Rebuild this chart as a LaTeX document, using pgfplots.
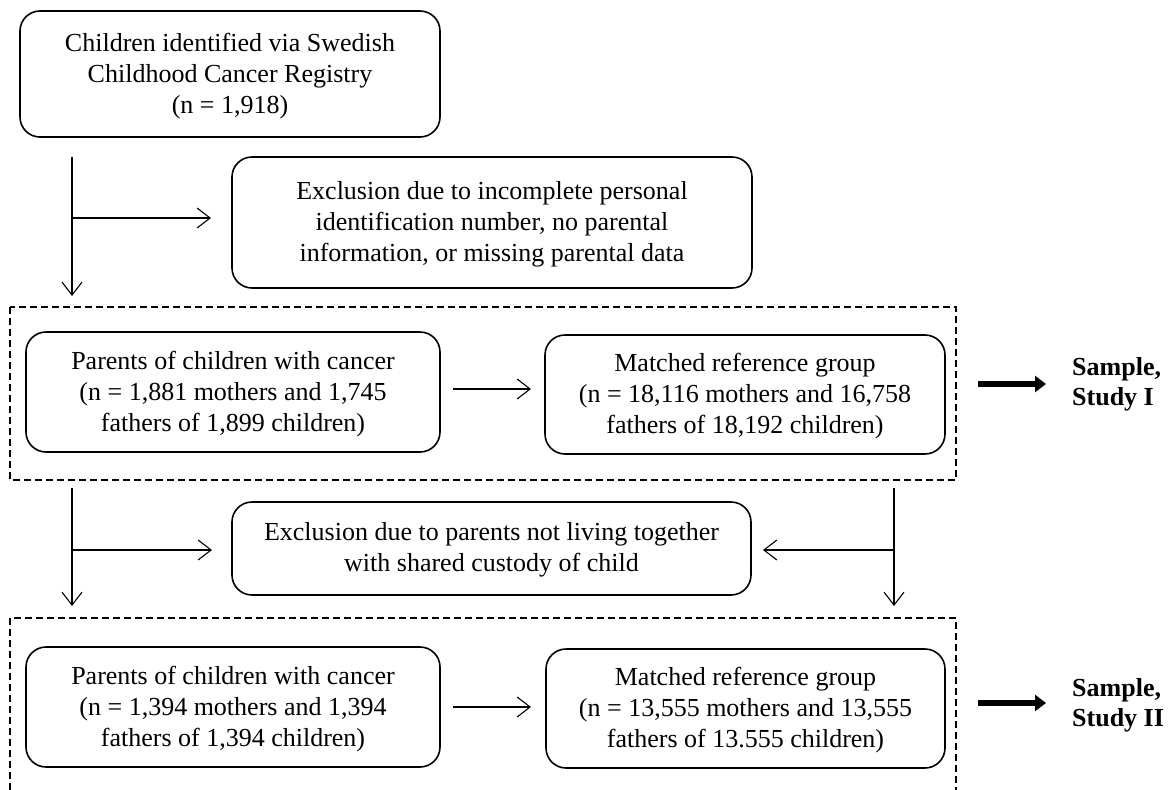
\documentclass[border=0pt]{standalone}
\usepackage{pgfplots}
\pgfplotsset{compat=1.18}
\usepackage{fontspec}
\setmainfont{Liberation Serif}
\usetikzlibrary{arrows.meta}
\begin{document}
\begin{tikzpicture}
\begin{axis}[width=1168pt,height=790pt,scale only axis,
  xmin=0,xmax=1168,ymin=0,ymax=790,y dir=reverse,
  axis lines=none,clip=false,ticks=none]
\tikzset{box/.style={draw,line width=1.6pt,rounded corners=20pt},
  txt/.style={align=center,font=\fontsize{26}{31}\selectfont,inner sep=0pt},
  arr/.style={line width=1.1pt,-{Straight Barb[length=13pt,width=20pt,line width=1.1pt]}},
  dbox/.style={line width=1.6pt,dash pattern=on 7pt off 4pt}}
% boxes
\draw[box] (axis cs:20,11) rectangle (axis cs:440,137);
\node[txt] at (axis cs:230,76) {Children identified via Swedish\\Childhood Cancer Registry\\(n = 1,918)};
\draw[box] (axis cs:232,157) rectangle (axis cs:752,288);
\node[txt] at (axis cs:492,224) {Exclusion due to incomplete personal\\identification number, no parental\\information, or missing parental data};
\draw[box] (axis cs:26,332) rectangle (axis cs:440,452);
\node[txt] at (axis cs:233,394) {Parents of children with cancer\\(n = 1,881 mothers and 1,745\\fathers of 1,899 children)};
\draw[box] (axis cs:545,335) rectangle (axis cs:945,454);
\node[txt] at (axis cs:745,396) {Matched reference group\\(n = 18,116 mothers and 16,758\\fathers of 18,192 children)};
\draw[box] (axis cs:232,502) rectangle (axis cs:751,595);
\node[txt] at (axis cs:491.5,550) {Exclusion due to parents not living together\\with shared custody of child};
\draw[box] (axis cs:26,647) rectangle (axis cs:440,767);
\node[txt] at (axis cs:233,709) {Parents of children with cancer\\(n = 1,394 mothers and 1,394\\fathers of 1,394 children)};
\draw[box] (axis cs:546,649) rectangle (axis cs:945,768);
\node[txt] at (axis cs:745.5,710) {Matched reference group\\(n = 13,555 mothers and 13,555\\fathers of 13.555 children)};
% dashed frames
\draw[dbox] (axis cs:10,307) rectangle (axis cs:956,480);
\draw[dbox] (axis cs:10,790) -- (axis cs:10,618) -- (axis cs:956,618) -- (axis cs:956,790);
% arrows
\draw[arr] (axis cs:72,157) -- (axis cs:72,296);
\draw[arr] (axis cs:72,218) -- (axis cs:211,218);
\draw[arr] (axis cs:453,389) -- (axis cs:531,389);
\draw[arr] (axis cs:72,488) -- (axis cs:72,606);
\draw[arr] (axis cs:72,550) -- (axis cs:212,550);
\draw[arr] (axis cs:894,488) -- (axis cs:894,606);
\draw[arr] (axis cs:894,550) -- (axis cs:763,550);
\draw[arr] (axis cs:453,707) -- (axis cs:531,707);
% thick arrows
\draw[line width=5.5pt,-{Triangle[length=11pt,width=16pt]}] (axis cs:978,384) -- (axis cs:1046,384);
\draw[line width=5.5pt,-{Triangle[length=11pt,width=16pt]}] (axis cs:978,703) -- (axis cs:1046,703);
\node[txt,anchor=west,align=left,font=\fontsize{26}{30}\selectfont\bfseries] at (axis cs:1072,384) {Sample,\\Study I};
\node[txt,anchor=west,align=left,font=\fontsize{26}{30}\selectfont\bfseries] at (axis cs:1072,705) {Sample,\\Study II};
\end{axis}
\pgfresetboundingbox
\useasboundingbox (current axis.south west) rectangle (current axis.north east);
\end{tikzpicture}
\end{document}
